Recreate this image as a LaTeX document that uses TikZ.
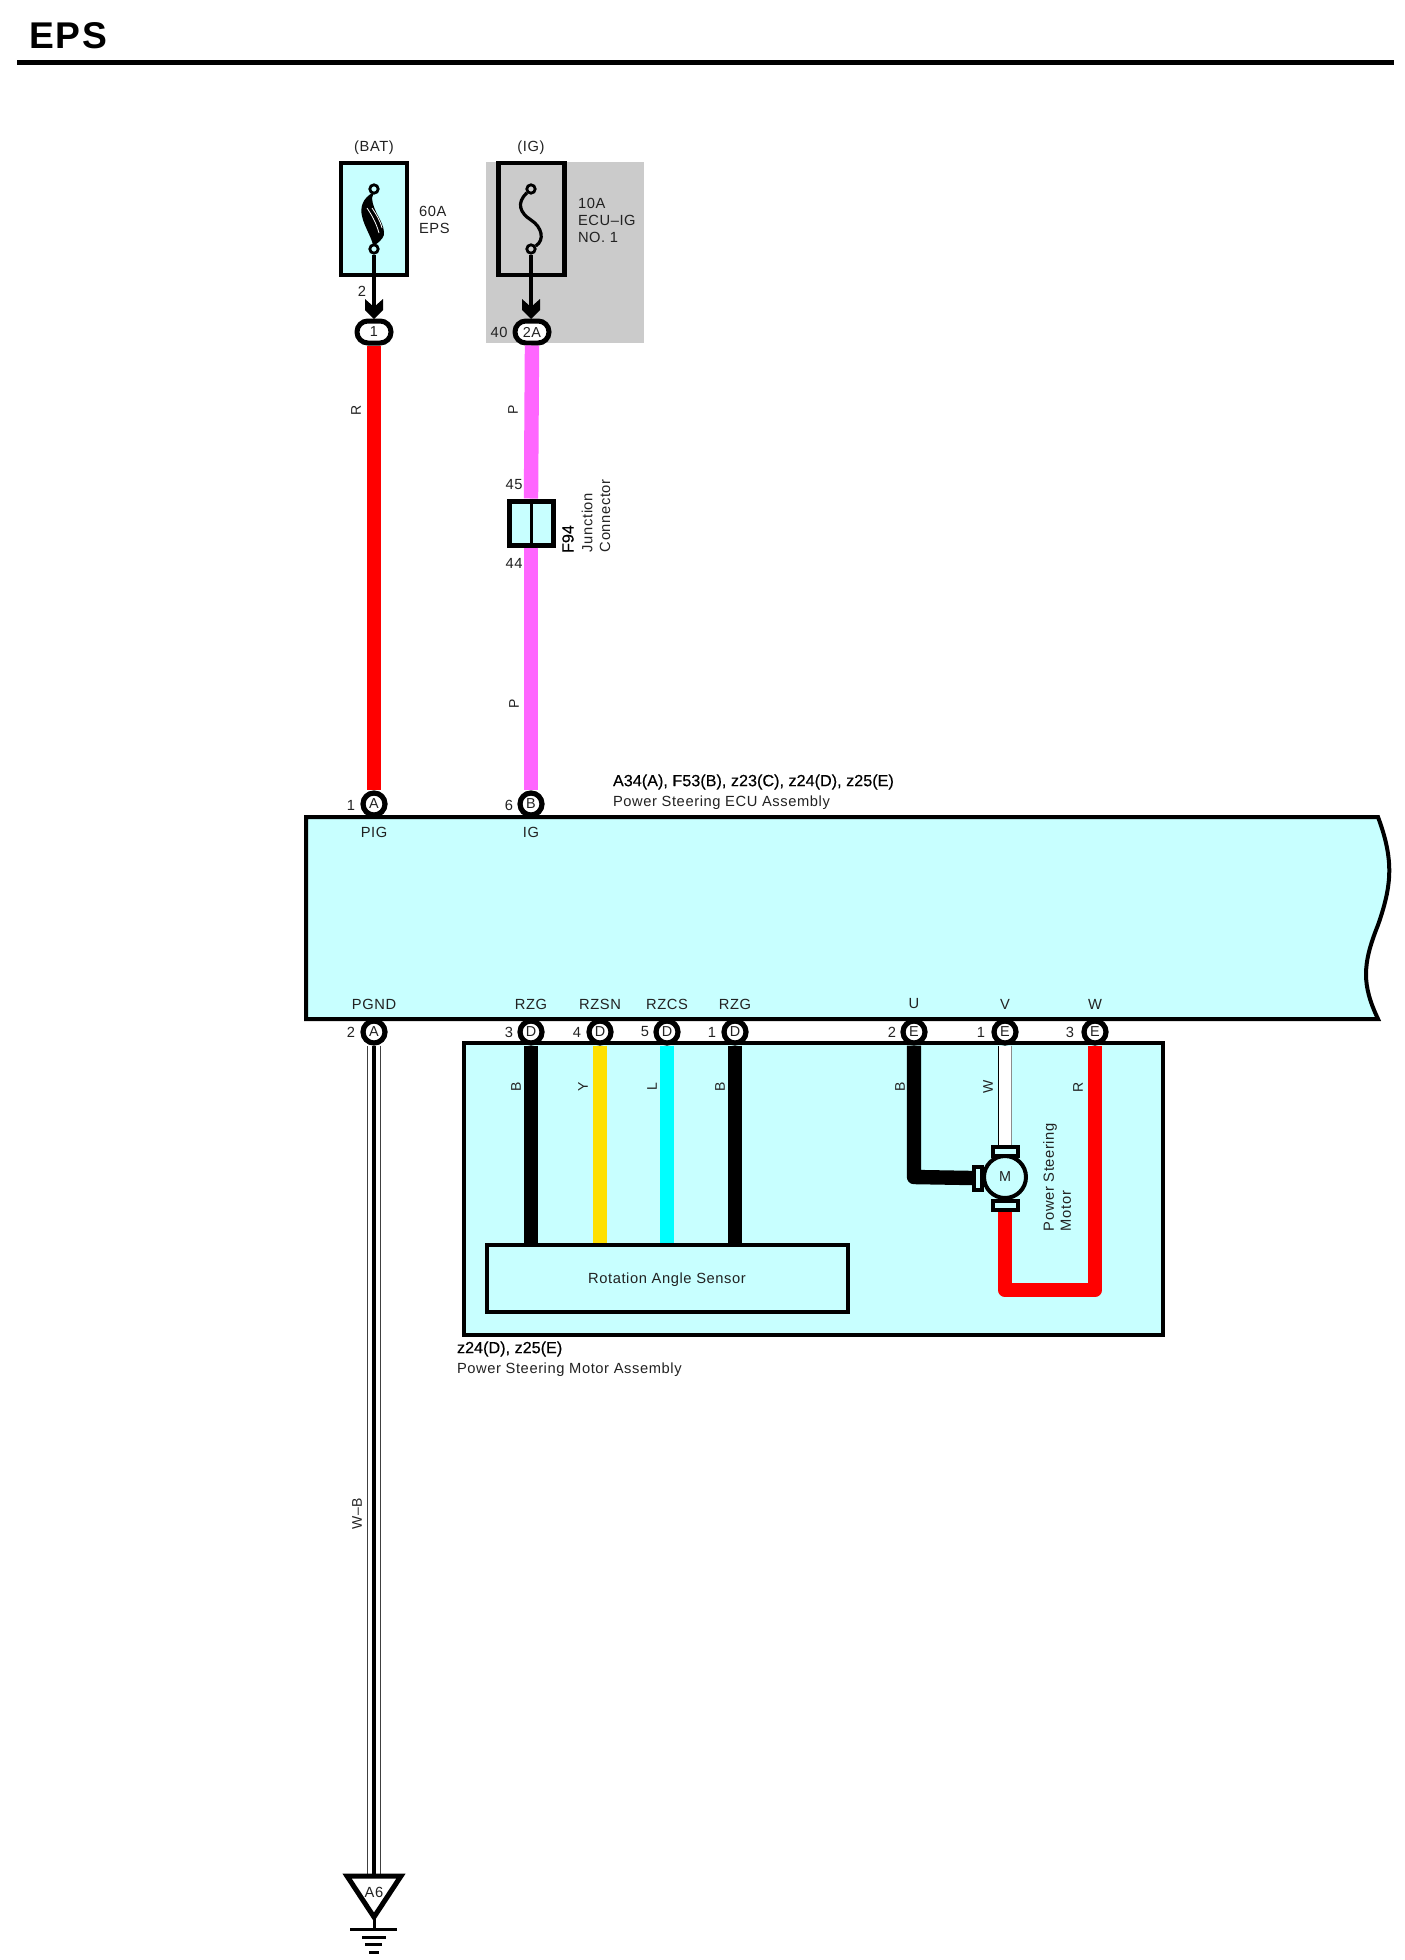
\documentclass[tikz,border=0pt]{standalone}
\usepackage{fontspec}
\usetikzlibrary{shapes.geometric}
\setmainfont{Liberation Sans}[LetterSpace=4]
\newfontfamily\plainbold{Liberation Sans}[FakeBold=0.3]
\definecolor{boxc}{HTML}{C8FFFF}
\definecolor{grayc}{HTML}{CBCBCB}
\definecolor{pinkc}{HTML}{FF66FF}
\definecolor{yelc}{HTML}{FFE000}
\definecolor{cyac}{HTML}{00FFFF}
\definecolor{txt}{HTML}{222222}
\tikzset{
  lab/.style={inner sep=0pt,outer sep=0pt,text=txt,font=\fontsize{7.35}{8.5}\selectfont},
  blab/.style={inner sep=0pt,outer sep=0pt,text=black,font=\fontsize{8.1}{9}\plainbold},
  pinc/.style={circle,draw=black,fill=white,line width=2.6pt,minimum size=11pt,inner sep=0pt,text=txt,font=\fontsize{7.2}{7}\selectfont},
  ovalc/.style={rectangle,rounded corners=5.45pt,draw=black,fill=white,line width=2.5pt,minimum width=17pt,minimum height=11pt,inner sep=0pt,text=txt,font=\fontsize{7.2}{7}\selectfont},
  wire/.style={line width=7.2pt},
  heavybox/.style={draw=black,line width=2pt,line join=miter,fill=boxc},
  term/.style={rectangle,draw=black,fill=boxc,line width=2pt,inner sep=0pt},
  wname/.style={lab,rotate=90,font=\fontsize{7}{7}\selectfont},
  fusebox/.style={rectangle,draw=black,line width=2.3pt,minimum width=33pt,minimum height=56pt,inner sep=0pt},
  fusepin/.style={circle,draw=black,line width=1.4pt,minimum size=4.2pt,inner sep=0pt},
  fuseline/.style={draw=black,line width=1.6pt},
  tip/.style={fill=black,draw=none}
}
\begin{document}
\begin{tikzpicture}[x=0.5pt,y=-0.5pt]
\useasboundingbox[fill=white] (0,0) rectangle (1404,1960);
% title
\node[inner sep=0pt,anchor=west,font=\fontsize{18.6}{20}\selectfont\bfseries] (title) at (29,36) {EPS};
\draw[line width=2.5pt] (17,62) -- (1394,62);
% gray area
\fill[grayc] (486,162) rectangle (644,343);
% fuse boxes
\node[fusebox,fill=boxc] (fb) at (374,219) {};
\node[fusebox,fill=grayc] (fi) at (531.5,219) {};
\node[lab] (lbat) at (374,148) {(BAT)};
\node[lab] (lig) at (531,148) {(IG)};
\node[lab,anchor=north west,align=left] (l60) at (419,206) {60A\\EPS};
\node[lab,anchor=north west,align=left] (l10) at (578,198) {10A\\ECU--IG\\NO. 1};
% fuses
\fill[black] (374,192) .. controls (362,198) and (360,208) .. (362,216) .. controls (364,226) and (371,236) .. (373,245) -- (375,245) .. controls (381,241) and (385,236) .. (384,232) .. controls (383,220) and (373,212) .. (372,198) -- cycle;
\draw[white,line width=0.4pt] (367,208) .. controls (371,214) and (376,222) .. (379,233);
\draw[white,line width=0.4pt] (372,208) .. controls (376,214) and (380,220) .. (382,228);
\node[fusepin,fill=boxc] (f1a) at (374,189) {};
\node[fusepin,fill=boxc] (f1b) at (374,249) {};
\node[fusepin,fill=grayc] (f2a) at (531,189) {};
\node[fusepin,fill=grayc] (f2b) at (531,249) {};
\draw[fuseline] (f2a) .. controls (516,203) and (520,213) .. (531,220) .. controls (542,227) and (545,240) .. (f2b);
% connectors top
\node[ovalc] (o1) at (374,332) {1};
\node[ovalc] (o2) at (532,332) {2A};
\coordinate (t1) at (374,307);
\coordinate (t2) at (531,307);
\draw[line width=1.6pt] (f1b) -- (t1);
\draw[line width=1.6pt] (f2b) -- (t2);
\fill[tip] (365,299) -- (374,307) -- (383,299) -- (383,310) -- (374,319) -- (365,310) -- cycle;
\fill[tip] (522,299) -- (531,307) -- (540,299) -- (540,310) -- (531,319) -- (522,310) -- cycle;
\node[lab] (n2t) at (362,291) {2};
\node[lab] (n40) at (499,332) {40};
% ECU box
\coordinate (e1) at (306,817);
\draw[heavybox] (e1) -- (1378,817) .. controls (1394,860) and (1392,885) .. (1378,925) .. controls (1362,965) and (1362,985) .. (1378,1019) -- (306,1019) -- cycle;
\node[pinc] (pa) at (374,804) {A};
\node[pinc] (pb) at (531,804) {B};
\node[lab] (pig) at (374,832) {PIG};
\node[lab] (sig) at (531,832) {IG};
\node[lab] (n1a) at (351,805) {1};
\node[lab] (n6b) at (509,805) {6};
\node[blab,anchor=west] (ecu1) at (613,782) {A34(A), F53(B), z23(C), z24(D), z25(E)};
\node[lab,anchor=west] (ecu2) at (613,803) {Power Steering ECU Assembly};
% F94
\node[rectangle,draw=black,fill=boxc,line width=2.5pt,minimum width=22pt,minimum height=22pt,inner sep=0pt] (f94) at (531,523) {};
\draw[line width=1.5pt] (f94.north) -- (f94.south);
\node[lab] (n45) at (514,485) {45};
\node[lab] (n44) at (514,563) {44};
\node[blab,rotate=90,anchor=west] (lf94) at (568,553) {F94};
\node[lab,rotate=90,anchor=west] (lj1) at (587,552) {Junction};
\node[lab,rotate=90,anchor=west] (lj2) at (605,552) {Connector};
% wires top
\draw[wire,red] (o1.south) -- (pa.north);
\draw[wire,pinkc] (o2.south) -- (f94.north);
\draw[wire,pinkc] (f94.south) -- (pb.north);
\node[wname] (wr1) at (356,410) {R};
\node[wname] (wp1) at (513,410) {P};
\node[wname] (wp2) at (514,704) {P};
% motor assembly box
\node[rectangle,heavybox,minimum width=349.5pt,minimum height=146pt,inner sep=0pt] (asm) at (813.5,1189) {};
\node[rectangle,heavybox,minimum width=180.5pt,minimum height=33.5pt,inner sep=0pt] (sens) at (667,1278.5) {};
\node[lab] (tsens) at (667,1280) {Rotation Angle Sensor};
\node[blab,anchor=west] (asm1) at (457,1349) {z24(D), z25(E)};
\node[lab,anchor=west] (asm2) at (457,1370) {Power Steering Motor Assembly};
% bottom pins
\node[pinc] (b0) at (374,1032) {A};
\node[pinc] (b1) at (531,1032) {D};
\node[pinc] (b2) at (600,1032) {D};
\node[pinc] (b3) at (667,1032) {D};
\node[pinc] (b4) at (735,1032) {D};
\node[pinc] (b5) at (914,1032) {E};
\node[pinc] (b6) at (1005,1032) {E};
\node[pinc] (b7) at (1095,1032) {E};
\foreach \nn/\xx/\lb in {s0/374/PGND,s1/531/RZG,s2/600/RZSN,s3/667/RZCS,s4/735/RZG,s5/914/U,s6/1005/V,s7/1095/W}
  \node[lab] (\nn) at (\xx,1004) {\lb};
\foreach \nn/\xx/\lb in {q0/351/2,q1/509/3,q2/577/4,q3/645/5,q4/712/1,q5/892/2,q6/981/1,q7/1070/3}
  \node[lab] (\nn) at (\xx,1032) {\lb};
% sensor wires
\coordinate (s1b) at (b1 |- sens.north);
\coordinate (s2b) at (b2 |- sens.north);
\coordinate (s3b) at (b3 |- sens.north);
\coordinate (s4b) at (b4 |- sens.north);
\draw[wire,black] (b1.south) -- (s1b);
\draw[wire,yelc] (b2.south) -- (s2b);
\draw[wire,cyac] (b3.south) -- (s3b);
\draw[wire,black] (b4.south) -- (s4b);
\node[wname] at (516,1087) {B};
\node[wname] at (583,1087) {Y};
\node[wname] at (652,1087) {L};
\node[wname] at (720,1087) {B};
% motor
\node[term,minimum width=12.5pt,minimum height=4.5pt] (mt) at (1005,1151) {};
\node[term,minimum width=12.5pt,minimum height=4.5pt] (mb) at (1005,1205) {};
\node[term,minimum width=4pt,minimum height=11.5pt] (ml) at (978,1178) {};
\node[circle,draw=black,fill=boxc,line width=2pt,minimum size=21pt,inner sep=0pt,text=txt,font=\fontsize{7.2}{8}\selectfont] (mot) at (1005,1177) {M};
\coordinate (bend1) at (914,1177);
\coordinate (bend2) at (1005,1290);
\coordinate (bend3) at (1095,1290);
\draw[wire,black,line join=round] (b5.south) -- (bend1) -- (ml.west);
\draw[wire,red,line join=round] (mb.south) -- (bend2) -- (bend3) -- (b7.south);
\draw[line width=6.8pt,black] (b6.south) -- (mt.north);
\draw[line width=6pt,white] (b6.south) -- (mt.north);
\coordinate (ge1) at ([xshift=3.2pt]b6.south);
\coordinate (ge2) at ([xshift=3.2pt]mt.north);
\draw[line width=0.6pt,black!45] (ge1) -- (ge2);
\node[wname] at (900,1087) {B};
\node[wname] at (988,1087) {W};
\node[wname] at (1078,1087) {R};
\node[lab,rotate=90,anchor=west] (pm1) at (1050,1231) {Power Steering};
\node[lab,rotate=90,anchor=west] (pm2) at (1066,1231) {Motor};
% ground
\coordinate (gt) at (374,1875);
\draw[line width=7pt,black!75] (b0.south) -- (gt);
\draw[line width=6pt,white] (b0.south) -- (gt);
\draw[line width=2pt,black] (b0.south) -- (gt);
\draw[line width=2.5pt,line join=miter,fill=white] (347,1876) -- (401,1876) -- (374,1917) -- cycle;
\node[lab] (ga) at (374,1892) {A6};
\coordinate (gb) at (374,1929);
\draw[line width=1.5pt] (374,1917) -- (gb);
\draw[line width=1.5pt] (350,1929) -- (397,1929);
\draw[line width=1.5pt] (362,1937) -- (386,1937);
\draw[line width=1.5pt] (365,1944) -- (382,1944);
\draw[line width=1.5pt] (369,1952) -- (379,1952);
\node[wname] (wwb) at (357,1514) {W--B};
\end{tikzpicture}
\end{document}
